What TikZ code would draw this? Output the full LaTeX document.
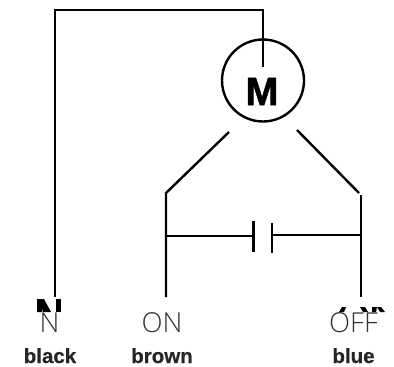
\documentclass[tikz,border=0pt]{standalone}
\usepackage{fontspec}
\setmainfont{Liberation Sans}
\newfontfamily\lightlabel{Open Sans Light}
\begin{document}
\begin{tikzpicture}[x=1pt,y=-1pt,
  wire/.style={draw=black,line width=2.4pt},
  thin label/.style={font=\fontsize{27.5}{27.5}\selectfont\lightlabel,text=black!80,inner sep=0pt,anchor=base},
  colour label/.style={font=\fontsize{20.5}{20.5}\selectfont\bfseries\addfontfeature{FakeBold=0.5},text=black!85,inner sep=0pt,anchor=base}]
\useasboundingbox (0,0) rectangle (394,367);
\coordinate (tl) at (55,10); \coordinate (tr) at (263,10);
\coordinate (bl) at (55,297); \coordinate (mi) at (263,67);
\node[circle,draw,line width=2.4pt,minimum size=82pt,inner sep=0pt] (motor) at (263,80.5) {};
\node[inner sep=0pt,anchor=base,font=\fontsize{39.5}{39.5}\selectfont\bfseries\addfontfeature{FakeBold=1.5}] (mlabel) at (262,105) {M};
\draw[wire] (bl) -- (tl) -- (tr) -- (mi);
\coordinate (a1) at (229,132); \coordinate (a2) at (166,193); \coordinate (a3) at (166,297);
\coordinate (b1) at (297,130); \coordinate (b2) at (359,193);
\coordinate (b3) at (361,195); \coordinate (b4) at (361,297);
\draw[wire] (a1) -- (a2) -- (a3);
\draw[wire] (b1) -- (b2);
\draw[wire] (b3) -- (b4);
\coordinate (c1) at (253.5,221); \coordinate (c2) at (253.5,252);
\coordinate (c3) at (272,222.5); \coordinate (c4) at (272,253);
\draw[wire] (c1) -- (c2);
\draw[wire] (c3) -- (c4);
\coordinate (wl) at (166,236); \coordinate (wr) at (361,235);
\draw[wire] (wl) -- (253.5,236);
\draw[wire] (272,235) -- (wr);
% clipped remains of bold letters
\fill[black] (37,299) -- (44,299) -- (51,312) -- (43,312) -- (42,306) -- (42,312) -- (37,312) -- cycle;
\fill[black] (56,299) -- (61,299) -- (61,312) -- (56,312) -- cycle;
\fill[black] (342,307) -- (346,307) -- (344,312) -- (339,312) -- cycle;
\fill[black] (360,307) -- (365,307) -- (368,312) -- (363,312) -- cycle;
\fill[black] (372,307) -- (377,307) -- (376,312) -- (372,312) -- cycle;
\fill[black] (377,307) -- (381,307) -- (385,312) -- (380,312) -- cycle;
\node[thin label] (n) at (49.5,332) {N};
\node[thin label] (on) at (162,332) {ON};
\node[thin label] (off) at (353.5,332) {OFF};
\node[colour label] (black) at (50,363) {black};
\node[colour label] (brown) at (162,363) {brown};
\node[colour label] (blue) at (353.5,363) {blue};
\end{tikzpicture}
\end{document}
